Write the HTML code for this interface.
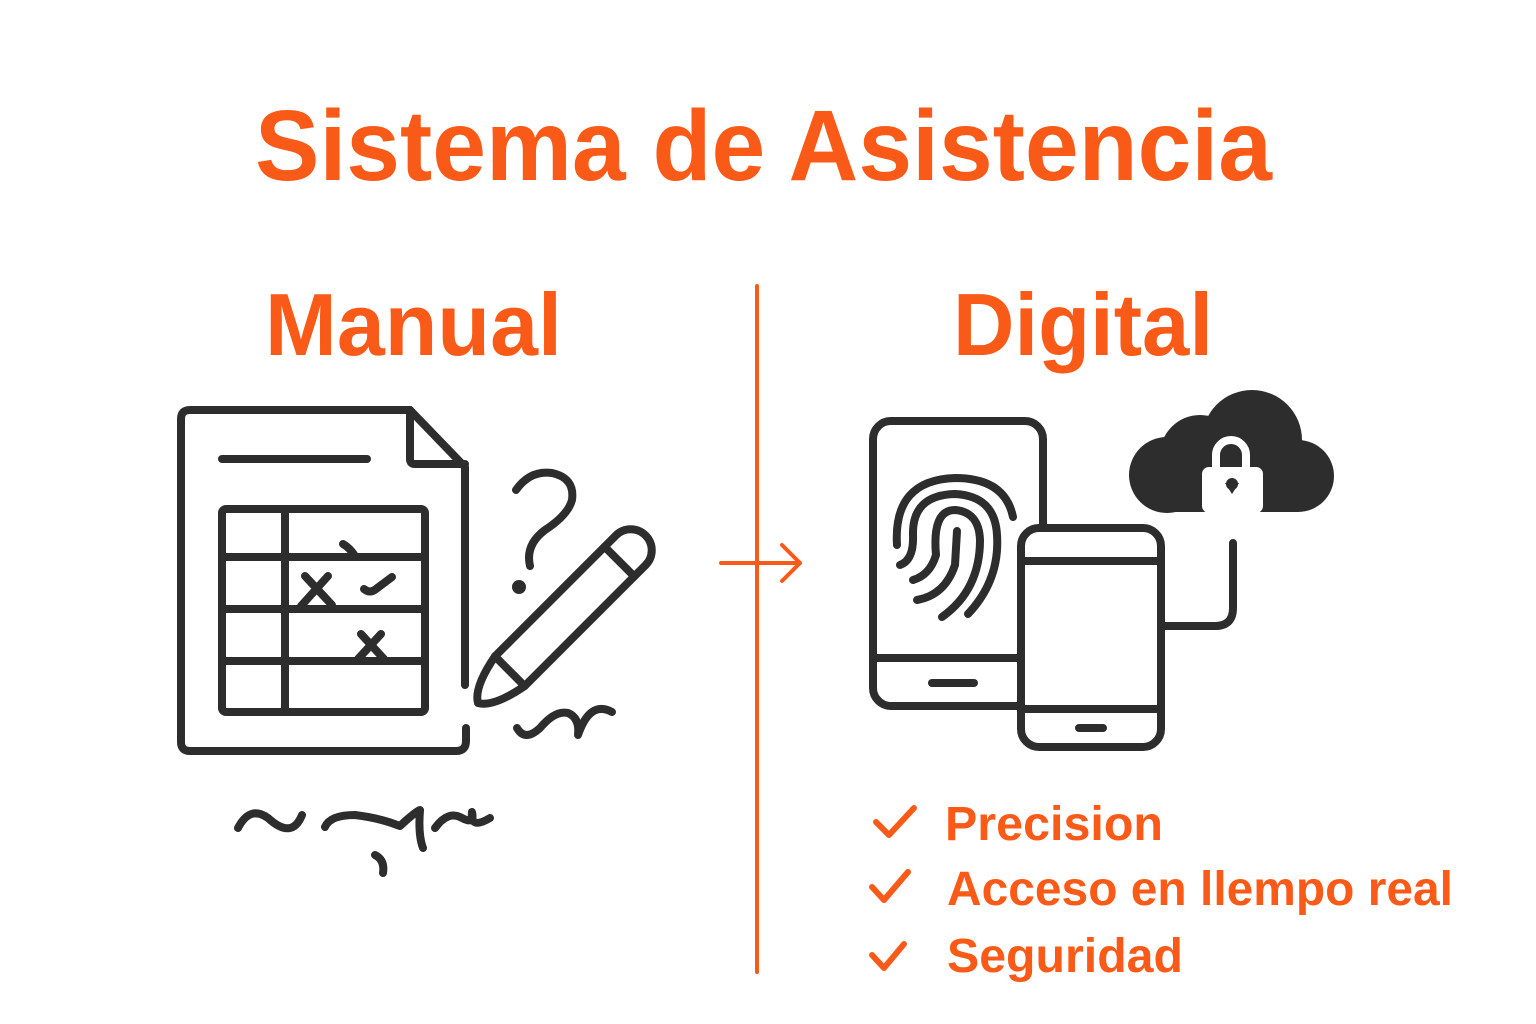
<!DOCTYPE html>
<html><head><meta charset="utf-8"><style>
html,body{margin:0;padding:0;background:#fff;}
svg{display:block;}
text{font-family:"Liberation Sans",sans-serif;font-weight:bold;fill:#fa5a18;}
</style></head><body>
<svg width="1536" height="1024" viewBox="0 0 1536 1024" xmlns="http://www.w3.org/2000/svg">
<rect width="1536" height="1024" fill="#fff"/>
<text x="255" y="180" font-size="100" textLength="1017" lengthAdjust="spacingAndGlyphs">Sistema de Asistencia</text>
<text x="265" y="355" font-size="88" textLength="297" lengthAdjust="spacingAndGlyphs">Manual</text>
<text x="953" y="355" font-size="88" textLength="260" lengthAdjust="spacingAndGlyphs">Digital</text>

<g stroke="#fa5a18" stroke-width="4" fill="none" stroke-linecap="round" stroke-linejoin="round">
<line x1="757" y1="286" x2="757" y2="972"/>
<line x1="721" y1="563" x2="800" y2="563"/>
<polyline points="782,545 800,563 782,581"/>
<polyline points="876,822 889,835 914,808" stroke-width="6"/>
<polyline points="872,887 884,900 908,872" stroke-width="6"/>
<polyline points="872,955 884,968 904,944" stroke-width="6"/>
</g>
<text x="945" y="840" font-size="48" textLength="218" lengthAdjust="spacingAndGlyphs">Precision</text>
<text x="947" y="905" font-size="48" textLength="506" lengthAdjust="spacingAndGlyphs">Acceso en llempo real</text>
<text x="947" y="972" font-size="48" textLength="236" lengthAdjust="spacingAndGlyphs">Seguridad</text>

<g stroke="#2d2d2d" stroke-width="8" fill="none" stroke-linecap="round" stroke-linejoin="round">
<path d="M465,685 L465,467 L410,410 L190,410 Q181,410 181,419 L181,742 Q181,751 190,751 L456,751 Q466,751 466,741 L466,728"/>
<path d="M410,410 L410,459 Q410,464 415,464 L465,464"/>
<line x1="222" y1="459" x2="367" y2="459"/>
<rect x="222" y="509" width="203" height="203" rx="4"/>
<line x1="222" y1="557" x2="425" y2="557"/>
<line x1="222" y1="609" x2="425" y2="609"/>
<line x1="222" y1="661" x2="425" y2="661"/>
<line x1="285" y1="509" x2="285" y2="712"/>
<path d="M343,544 Q350,548 355,556"/>
<path d="M305,576 L332,605 M328,576 L301,606"/>
<path d="M364,589 Q370,594 376,589 L392,577"/>
<path d="M361,634 L384,659 M381,634 L358,659"/>
<path d="M516,490 Q530,470 552,473 Q575,478 572,500 Q568,515 545,530 Q525,545 530,566"/>
<circle cx="519" cy="587" r="7" fill="#2d2d2d" stroke="none"/>
<g transform="translate(478,703) rotate(-45)">
<path d="M0,0 Q8,-14 45,-21 L216,-21 A21,21 0 0 1 216,21 L45,21 Q8,14 0,0 Z"/>
<line x1="45" y1="-21" x2="45" y2="21"/>
<line x1="200" y1="-21" x2="200" y2="21"/>
</g>
<path d="M517,728 Q525,742 540,728 Q555,710 568,713 Q580,718 578,735 Q590,700 612,712"/>
<path d="M238,828 Q250,805 268,818 Q292,840 302,815"/>
<path d="M325,827 Q330,815 355,815 Q380,818 400,826 Q415,812 420,810 Q418,835 423,848"/>
<path d="M435,828 Q448,810 462,818 Q475,825 472,812 Q470,830 490,818"/>
<path d="M375,855 Q385,860 383,873"/>
<rect x="873" y="421" width="170" height="285" rx="18"/>
<line x1="873" y1="658" x2="1020" y2="658"/>
<line x1="932" y1="683" x2="974" y2="683"/>
<path d="M897,545 Q893,480 955,478 Q1005,478 1013,517"/>
<path d="M900,565 Q914,560 913,535 Q912,495 955,494 Q995,496 997,535 Q1000,580 968,614"/>
<path d="M913,580 Q930,575 936,555 Q932,510 955,510 Q979,512 980,540 Q980,590 942,617"/>
<path d="M917,600 Q945,595 955,565 L957,531"/>
</g>
<rect x="1021" y="528" width="140" height="219" rx="18" fill="#fff" stroke="#2d2d2d" stroke-width="8"/>
<g stroke="#2d2d2d" stroke-width="8" fill="none" stroke-linecap="round" stroke-linejoin="round">
<line x1="1021" y1="561" x2="1161" y2="561"/>
<line x1="1021" y1="709" x2="1161" y2="709"/>
<line x1="1079" y1="728" x2="1103" y2="728"/>
<path d="M1161,626 L1215,626 Q1233,626 1233,608 L1233,543"/>
</g>
<g fill="#2d2d2d">
<circle cx="1252" cy="440" r="50"/>
<circle cx="1200" cy="455" r="40"/>
<circle cx="1298" cy="476" r="36"/>
<rect x="1165" y="470" width="133" height="42"/>
<circle cx="1167" cy="475" r="38"/>
</g>
<path d="M1216,470 L1216,455 A15,15 0 0 1 1246,455 L1246,470" stroke="#fff" stroke-width="8" fill="none"/>
<rect x="1202" y="467" width="61" height="46" rx="7" fill="#fff"/>
<path d="M1225,483 L1239,483 L1232,494 Z" fill="#2d2d2d"/>
<circle cx="1232" cy="484" r="6" fill="#2d2d2d"/>
</svg>
</body></html>
